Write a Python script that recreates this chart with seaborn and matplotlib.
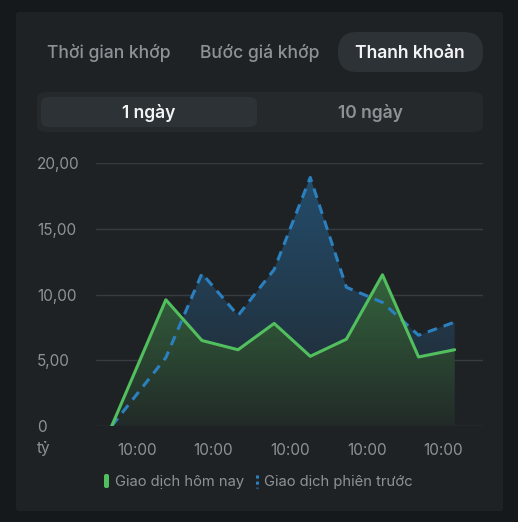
import numpy as np
import pandas as pd
import matplotlib
matplotlib.use("Agg")
import matplotlib.pyplot as plt
import seaborn as sns
from matplotlib.patches import FancyBboxPatch
from matplotlib.lines import Line2D
from matplotlib.colors import to_rgb

# --- data ---
x_pos = [0, 1.5, 2.5, 3.5, 4.5, 5.5, 6.5, 7.5, 8.5, 9.5]
today = [0.0, 9.6, 6.5, 5.8, 7.8, 5.3, 6.6, 11.5, 5.25, 5.8]
previous = [0.0, 5.2, 11.6, 8.4, 11.9, 18.9, 10.55, 9.4, 6.9, 7.9]
x_ticks = [0.7, 2.82, 4.94, 7.06, 9.18]
x_tick_labels = ["10:00"] * 5
y_ticks = [0, 5, 10, 15, 20]
y_tick_labels = ["0", "5,00", "10,00", "15,00", "20,00"]
tabs = ["Thời gian khớp", "Bước giá khớp", "Thanh khoản"]
periods = ["1 ngày", "10 ngày"]
legend_labels = ["Giao dịch hôm nay", "Giao dịch phiên trước"]

W, H = 518, 522
BG_OUT = "#16191c"
CARD = "#1f2225"
PILL = "#2d3236"
GREEN = "#52bf5e"
BLUE = "#2b80c0"
GRID = "#383b3f"
MUTED = "#8d9297"

sns.set_theme(style="dark")
plt.rcParams["font.family"] = ["Inter", "DejaVu Sans"]

fig = plt.figure(figsize=(W / 100, H / 100), dpi=100, facecolor=BG_OUT)


def px_box(x0, y0, x1, y1, color, r, z=-10):
    # rounded rect in pixel coords, origin top-left
    p = FancyBboxPatch((x0 / W, 1 - y1 / H), (x1 - x0) / W, (y1 - y0) / H,
                       boxstyle=f"round,pad=0,rounding_size={r / W}",
                       transform=fig.transFigure, facecolor=color,
                       edgecolor="none", zorder=z)
    fig.patches.append(p)


def px_text(x, y, s, **kw):
    fig.text(x / W, 1 - y / H, s, va="center", **kw)


# card + controls
px_box(16, 12, 503, 511, CARD, 3, -20)
px_box(338, 32, 483, 72, PILL, 19)
px_box(37, 92, 483, 132, "#25292c", 8)
px_box(41, 97, 257, 127, PILL, 7, -5)

px_text(109, 53.5, tabs[0], color=MUTED, fontsize=12.6, ha="center", fontweight="medium")
px_text(260, 53.5, tabs[1], color=MUTED, fontsize=12.6, ha="center", fontweight="medium")
px_text(410, 53.5, tabs[2], color="#f2f3f4", fontsize=12.6, ha="center", fontweight="semibold")
px_text(149, 113.5, periods[0], color="#f2f3f4", fontsize=12.6, ha="center", fontweight="semibold")
px_text(370, 113.5, periods[1], color=MUTED, fontsize=12.6, ha="center", fontweight="semibold")

# chart axes
ax = fig.add_axes([96 / W, 1 - 426 / H, (483 - 96) / W, (426 - 163) / H])
ax.set_facecolor("none")


def gradient_fill(xs, ys, rgb, a_top, a_bot, z):
    bg = np.array(to_rgb(CARD))
    col = np.array(to_rgb(rgb))
    n = 256
    a = np.linspace(a_bot, a_top, n)[:, None]
    img = a * col + (1 - a) * bg
    img = img[:, None, :]
    poly = ax.fill_between(xs, ys, 0, color="none", lw=0)
    im = ax.imshow(img, extent=[min(xs), max(xs), 0, max(ys)], origin="lower",
                   aspect="auto", zorder=z, interpolation="bilinear")
    im.set_clip_path(poly.get_paths()[0], transform=ax.transData)


gradient_fill(x_pos, previous, BLUE, 0.45, 0.06, 1)
gradient_fill(x_pos, today, GREEN, 0.42, 0.05, 2)
ax.set_xlim(-0.435, 10.285)
ax.set_ylim(0, 20)

df = pd.DataFrame({"x": x_pos, "today": today, "previous": previous})
sns.lineplot(data=df, x="x", y="previous", ax=ax, color=BLUE, lw=2.2, zorder=3)
ax.lines[-1].set_dashes((3.2, 2.3))
sns.lineplot(data=df, x="x", y="today", ax=ax, color=GREEN, lw=2.2, zorder=4)

ax.set_xlabel("")
ax.set_ylabel("")
ax.set_yticks(y_ticks)
ax.set_yticklabels(y_tick_labels, ha="left")
ax.set_xticks(x_ticks)
ax.set_xticklabels(x_tick_labels)
ax.tick_params(axis="y", length=0, pad=42.5, labelcolor=MUTED, labelsize=11)
ax.tick_params(axis="x", length=4, width=1, color=GRID, pad=8,
               labelcolor=MUTED, labelsize=11)
ax.grid(axis="y", color=GRID, lw=1)
ax.grid(axis="x", visible=False)
for s in ax.spines.values():
    s.set_visible(False)
ax.set_axisbelow(True)

px_text(37, 449, "tỷ", color=MUTED, fontsize=11, ha="left")

# legend
px_box(104, 474, 109, 488, GREEN, 2)
px_text(115, 482, legend_labels[0], color=MUTED, fontsize=10.6, ha="left")
fig.add_artist(Line2D([257 / W, 257 / W], [1 - 475 / H, 1 - 488 / H],
                      transform=fig.transFigure, color=BLUE, lw=2.2,
                      linestyle=(0, (1, 1))))
px_text(264, 482, legend_labels[1], color=MUTED, fontsize=10.6, ha="left")

fig.savefig("out.png", dpi=100, facecolor=BG_OUT)
